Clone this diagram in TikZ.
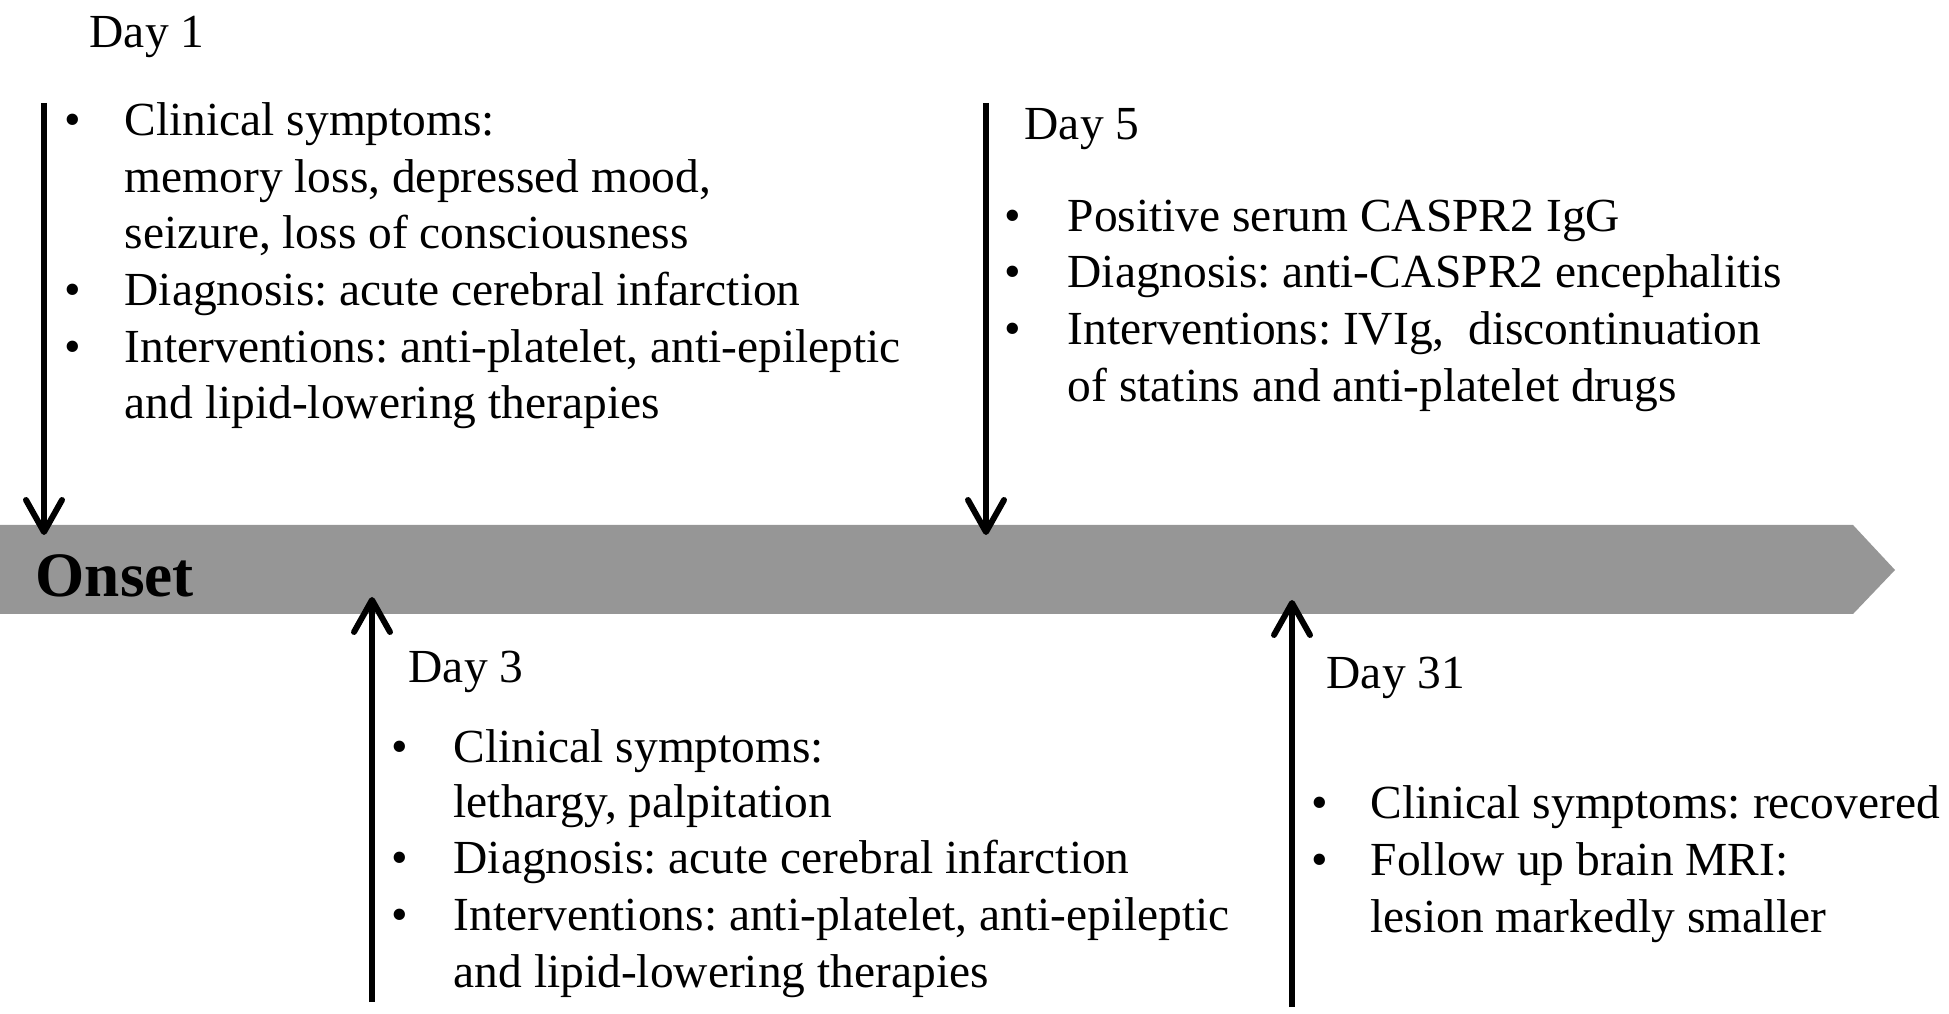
\documentclass[tikz,border=0pt]{standalone}
\usepackage{fontspec}
\setmainfont{Liberation Serif}
\usetikzlibrary{arrows.meta,positioning}
\definecolor{bandgray}{RGB}{150,150,150}
\newcommand{\bodyfont}{\fontsize{13.5}{16}\selectfont}
\frenchspacing
\tikzset{
	txt/.style={anchor=base west, inner sep=0pt, font=\bodyfont},
	dot/.style={anchor=base west, inner sep=0pt, font=\bodyfont},
	evarrow/.style={line width=1.7pt, -{Straight Barb[length=0.32cm, width=0.36cm, round]}}
}

\begin{document}
\begin{tikzpicture}
	\useasboundingbox (0,0) rectangle (19.49,10.13);

	% time band
	\fill [bandgray] (0,4.88) -- (18.53,4.88) -- (18.95,4.43) -- (18.53,3.99) -- (0,3.99) -- cycle;
	\node (onset) [anchor=base west, inner sep=0pt, font=\fontsize{18}{18}\selectfont\bfseries] at (0.35,4.16) {Onset};

	% day 1
	\node (day1) [txt] at (0.89,9.65) {Day 1};
	\node (b1a) [dot] at (0.64,8.77) {\textbullet};
	\node (t1a) [txt] at (1.24,8.77) {Clinical symptoms:};
	\node (t1b) [txt] at (1.24,8.20) {memory loss, depressed mood,};
	\node (t1c) [txt] at (1.24,7.64) {seizure, loss of consciousness};
	\node (b1b) [dot] at (0.64,7.07) {\textbullet};
	\node (t1d) [txt] at (1.24,7.07) {Diagnosis: acute cerebral infarction};
	\node (b1c) [dot] at (0.64,6.50) {\textbullet};
	\node (t1e) [txt] at (1.24,6.50) {Interventions: anti-platelet, anti-epileptic};
	\node (t1f) [txt] at (1.24,5.94) {and lipid-lowering therapies};

	% day 5
	\node (day5) [txt] at (10.24,8.73) {Day 5};
	\node (b5a) [dot] at (10.04,7.81) {\textbullet};
	\node (t5a) [txt] at (10.67,7.81) {Positive serum CASPR2 IgG};
	\node (b5b) [dot] at (10.04,7.25) {\textbullet};
	\node (t5b) [txt] at (10.67,7.25) {Diagnosis: anti-CASPR2 encephalitis};
	\node (b5c) [dot] at (10.04,6.68) {\textbullet};
	\node (t5c) [txt] at (10.67,6.68) {Interventions: IVIg,~ discontinuation};
	\node (t5d) [txt] at (10.67,6.11) {of statins and anti-platelet drugs};

	% day 3
	\node (day3) [txt] at (4.08,3.30) {Day 3};
	\node (b3a) [dot] at (3.91,2.51) {\textbullet};
	\node (t3a) [txt] at (4.53,2.51) {Clinical symptoms:};
	\node (t3b) [txt] at (4.53,1.96) {lethargy, palpitation};
	\node (b3b) [dot] at (3.91,1.40) {\textbullet};
	\node (t3c) [txt] at (4.53,1.40) {Diagnosis: acute cerebral infarction};
	\node (b3c) [dot] at (3.91,0.83) {\textbullet};
	\node (t3d) [txt] at (4.53,0.83) {Interventions: anti-platelet, anti-epileptic};
	\node (t3e) [txt] at (4.53,0.26) {and lipid-lowering therapies};

	% day 31
	\node (day31) [txt] at (13.26,3.25) {Day 31};
	\node (b31a) [dot] at (13.11,1.95) {\textbullet};
	\node (t31a) [txt] at (13.70,1.95) {Clinical symptoms: recovered};
	\node (b31b) [dot] at (13.11,1.38) {\textbullet};
	\node (t31b) [txt] at (13.70,1.38) {Follow up brain MRI:};
	\node (t31c) [txt] at (13.70,0.81) {lesion markedly smaller};

	% arrows
	\coordinate (a1s) at (0.44,9.10);
	\coordinate (a1e) at (0.44,4.78);
	\coordinate (a5s) at (9.86,9.10);
	\coordinate (a5e) at (9.86,4.78);
	\coordinate (a3s) at (3.72,0.11);
	\coordinate (a3e) at (3.72,4.16);
	\coordinate (a31s) at (12.92,0.06);
	\coordinate (a31e) at (12.92,4.13);
	\draw [evarrow] (a1s) to (a1e);
	\draw [evarrow] (a5s) to (a5e);
	\draw [evarrow] (a3s) to (a3e);
	\draw [evarrow] (a31s) to (a31e);

\end{tikzpicture}
\end{document}
